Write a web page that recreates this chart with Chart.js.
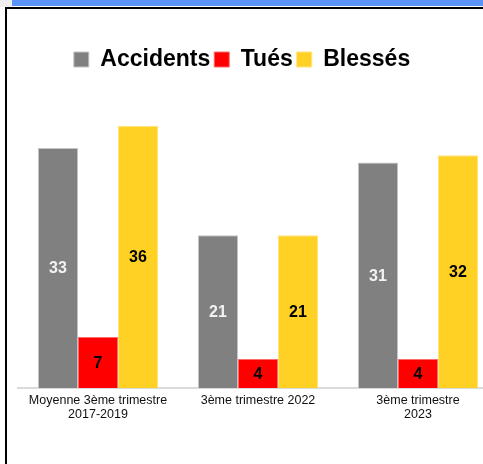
<!DOCTYPE html>
<html>
<head>
<meta charset="utf-8">
<script src="https://cdn.jsdelivr.net/npm/chart.js@4.4.0/dist/chart.umd.min.js"></script>
<style>
  html, body { margin: 0; padding: 0; background: #fff; overflow: hidden; width: 483px; height: 464px; }
  .strip { position: absolute; left: 0; top: 0; width: 12px; height: 7px; background: #efefef; }
  .topbar { position: absolute; left: 12px; top: 0; width: 480px; height: 6px; background: #5b93f6; }
  .frame { position: absolute; left: 5px; top: 7px; width: 600px; height: 600px; border-top: 2px solid #000; border-left: 2px solid #000; }
  #chart { position: absolute; left: -14px; top: 9px; }
</style>
</head>
<body>
<div class="strip"></div>
<div class="topbar"></div>
<canvas id="chart" width="512" height="455"></canvas>
<div class="frame"></div>
<script>
const categories = [["Moyenne 3ème trimestre", "2017-2019"], "3ème trimestre 2022", ["3ème trimestre", "2023"]];
const accidents = [33, 21, 31];
const tues = [7, 4, 4];
const blesses = [36, 21, 32];

const ctx = document.getElementById('chart');

// values written in the middle of each bar
const barValues = {
  id: 'barValues',
  afterDatasetsDraw(chart) {
    const c = chart.ctx;
    c.save();
    c.font = 'bold 16px "Liberation Sans", Arial, sans-serif';
    c.textAlign = 'center';
    c.textBaseline = 'middle';
    chart.data.datasets.forEach((ds, i) => {
      const meta = chart.getDatasetMeta(i);
      meta.data.forEach((bar, j) => {
        c.fillStyle = ds.labelColor;
        c.fillText(ds.data[j], bar.x, (bar.y + bar.base) / 2 + 1);
      });
    });
    c.restore();
  }
};

// fixed legend block height so the plot area starts where the original does
const legendHeight = {
  id: 'legendHeight',
  beforeInit(chart) {
    const fit = chart.legend.fit;
    chart.legend.fit = function () {
      fit.bind(chart.legend)();
      this.height = 53;
    };
  }
};

new Chart(ctx, {
  type: 'bar',
  data: {
    labels: categories,
    datasets: [
      {
        label: 'Accidents',
        data: accidents,
        backgroundColor: '#808080',
        borderColor: '#c4c4c4',
        borderWidth: 1,
        labelColor: '#f2f2f2'
      },
      {
        label: 'Tués',
        data: tues,
        backgroundColor: '#ff0000',
        borderColor: '#ff6a6a',
        borderWidth: 1,
        labelColor: '#000'
      },
      {
        label: 'Blessés',
        data: blesses,
        backgroundColor: '#ffd124',
        borderColor: '#ffe27a',
        borderWidth: 1,
        labelColor: '#000'
      }
    ]
  },
  options: {
    responsive: false,
    animation: false,
    layout: { padding: { top: 35, left: 0, right: 0, bottom: 0 } },
    datasets: {
      bar: { categoryPercentage: 0.75, barPercentage: 1.0 }
    },
    plugins: {
      tooltip: { enabled: false },
      legend: {
        position: 'top',
        labels: {
          boxWidth: 15,
          boxHeight: 15,
          padding: 4,
          color: '#000',
          font: { family: '"Liberation Sans", Arial, sans-serif', size: 23, weight: 'bold' }
        }
      }
    },
    scales: {
      x: {
        grid: { display: false },
        border: { display: true, color: '#d9d9d9', width: 2 },
        ticks: {
          color: '#111',
          padding: -3,
          maxRotation: 0,
          autoSkip: false,
          font: { family: '"Liberation Sans", Arial, sans-serif', size: 12.5, lineHeight: 1.15 }
        },
        afterFit(scale) { scale.height = 76; }
      },
      y: {
        min: 0,
        max: 40,
        grid: { display: false },
        border: { display: false },
        ticks: { display: false },
        afterFit(scale) { scale.width = 32; }
      }
    }
  },
  plugins: [barValues, legendHeight]
});
</script>
</body>
</html>
